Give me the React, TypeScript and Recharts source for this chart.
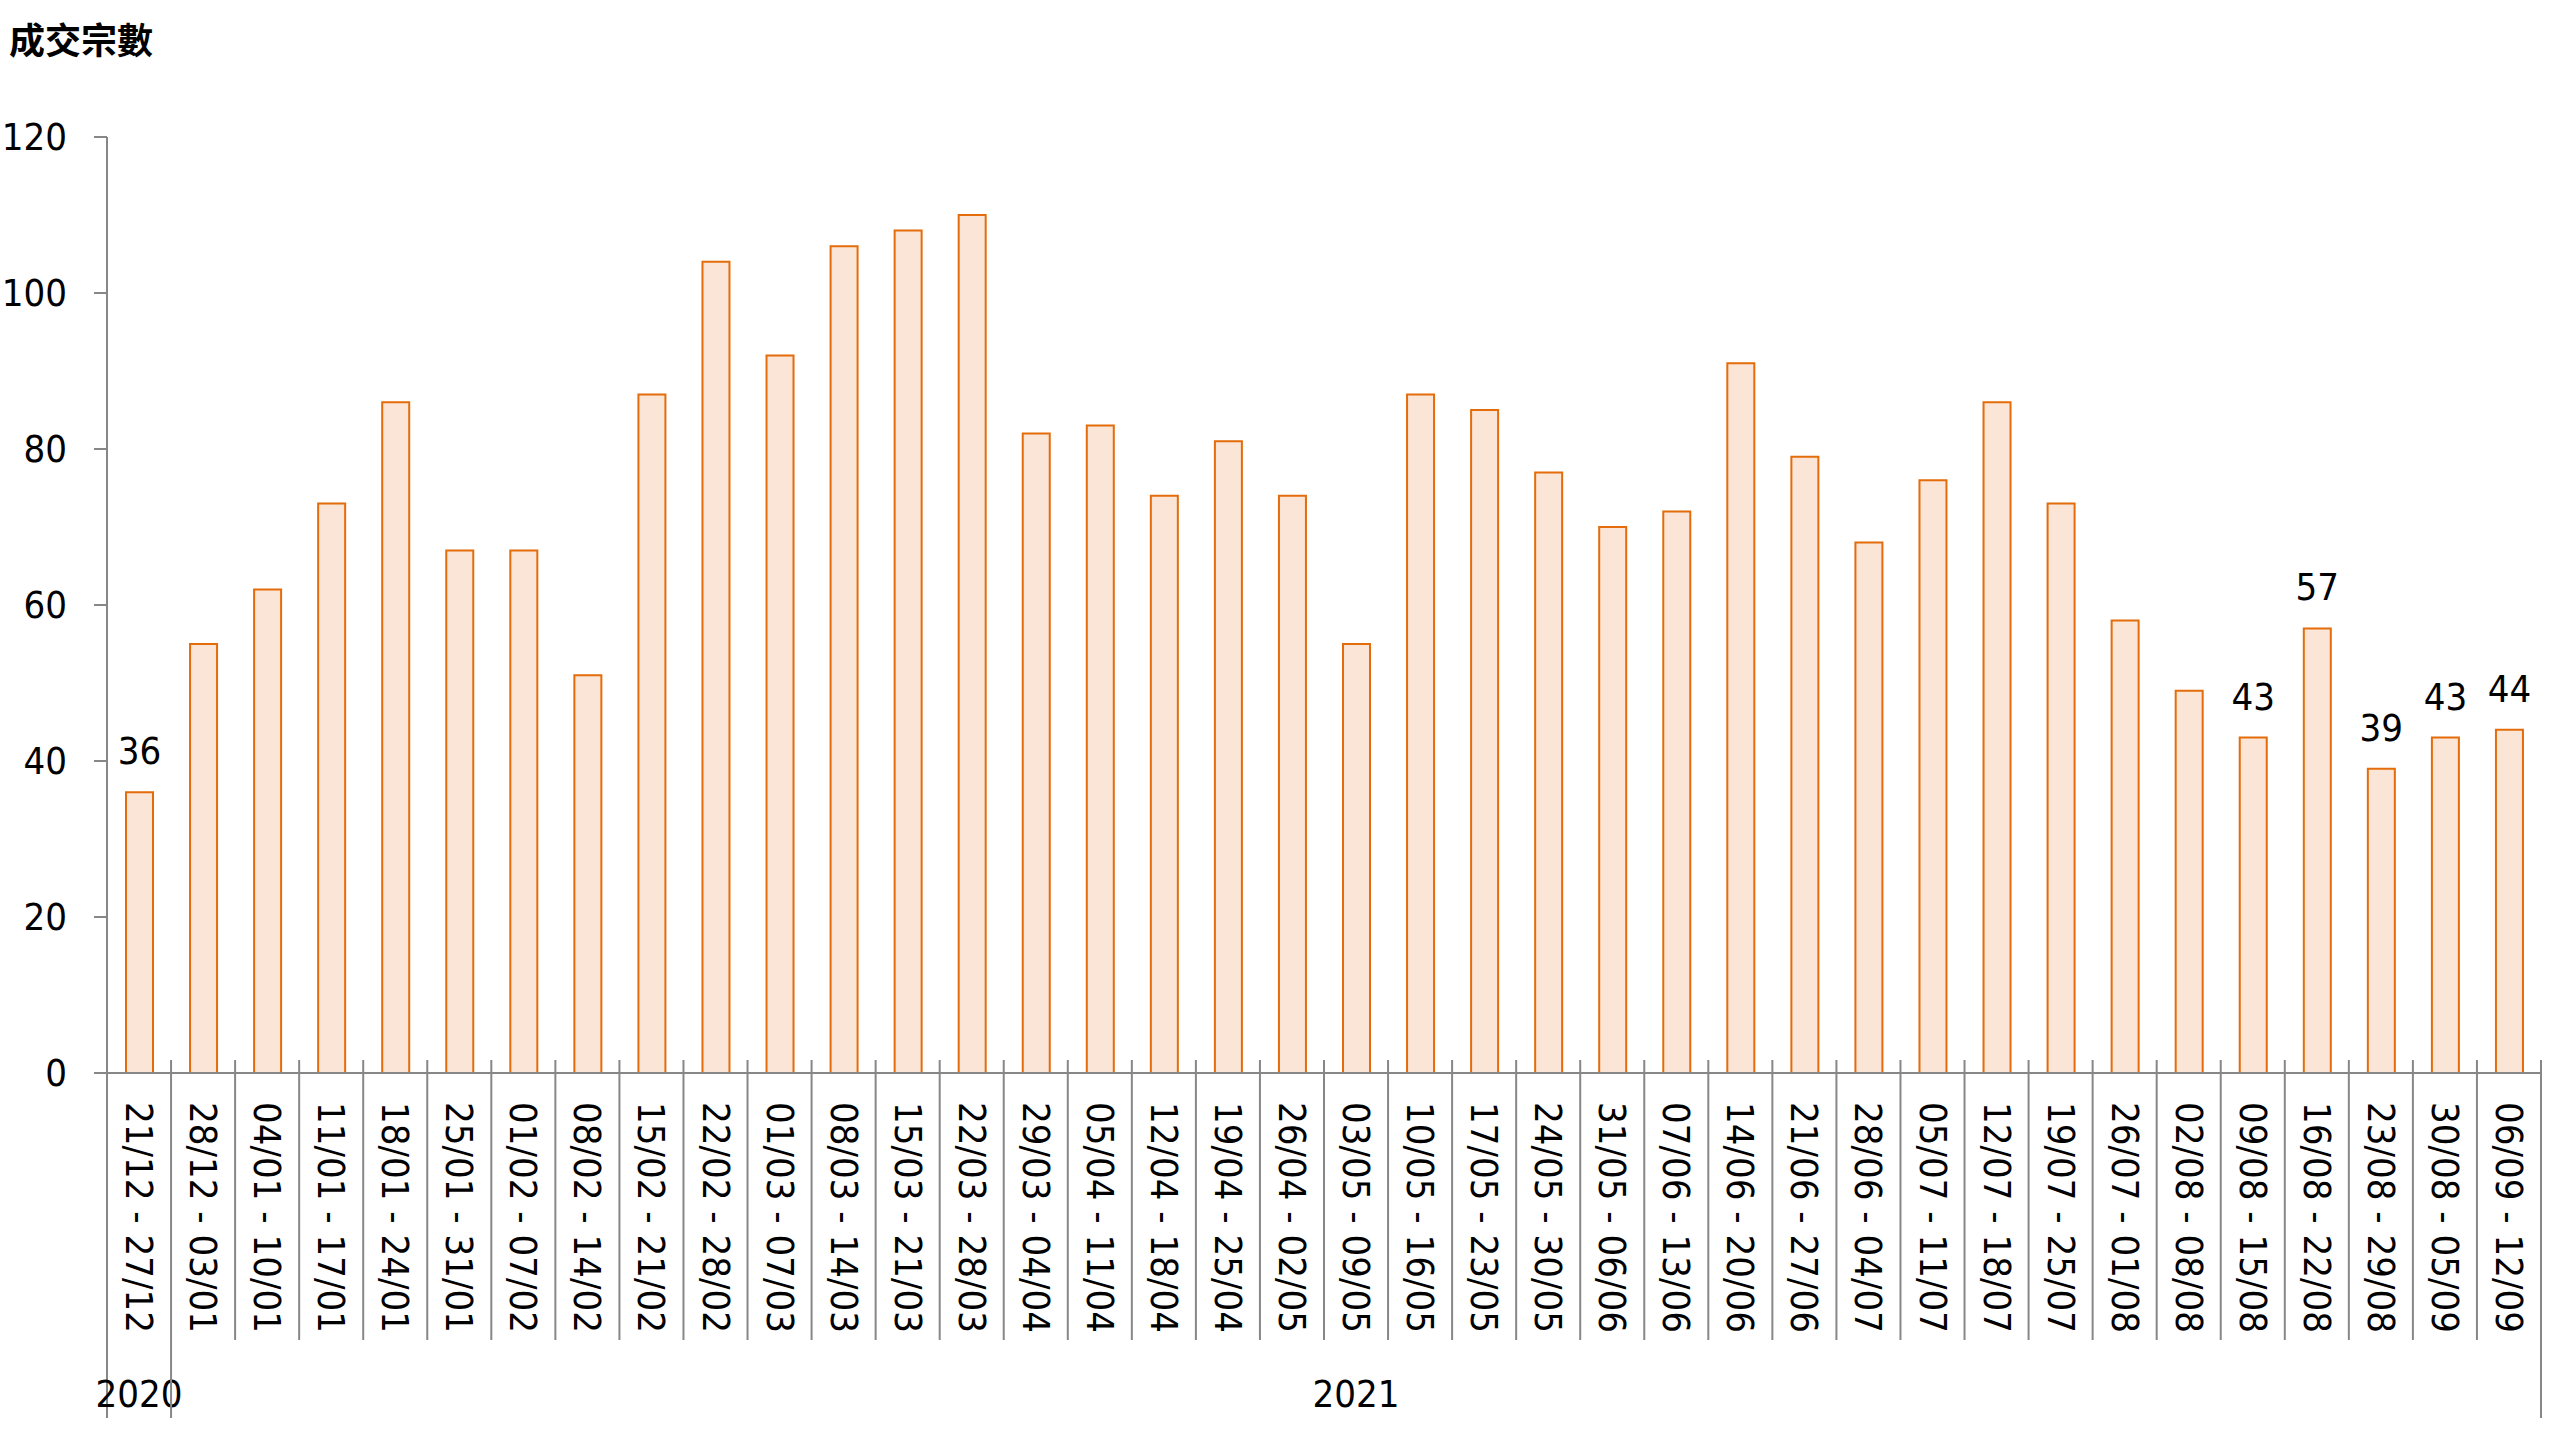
import { BarChart, Bar, XAxis, YAxis, LabelList } from "recharts";

const weeks = [
  "21/12 - 27/12", "28/12 - 03/01", "04/01 - 10/01", "11/01 - 17/01", "18/01 - 24/01",
  "25/01 - 31/01", "01/02 - 07/02", "08/02 - 14/02", "15/02 - 21/02", "22/02 - 28/02",
  "01/03 - 07/03", "08/03 - 14/03", "15/03 - 21/03", "22/03 - 28/03", "29/03 - 04/04",
  "05/04 - 11/04", "12/04 - 18/04", "19/04 - 25/04", "26/04 - 02/05", "03/05 - 09/05",
  "10/05 - 16/05", "17/05 - 23/05", "24/05 - 30/05", "31/05 - 06/06", "07/06 - 13/06",
  "14/06 - 20/06", "21/06 - 27/06", "28/06 - 04/07", "05/07 - 11/07", "12/07 - 18/07",
  "19/07 - 25/07", "26/07 - 01/08", "02/08 - 08/08", "09/08 - 15/08", "16/08 - 22/08",
  "23/08 - 29/08", "30/08 - 05/09", "06/09 - 12/09",
];

const deals = [
  36, 55, 62, 73, 86, 67, 67, 51, 87, 104,
  92, 106, 108, 110, 82, 83, 74, 81, 74, 55,
  87, 85, 77, 70, 72, 91, 79, 68, 76, 86,
  73, 58, 49, 43, 57, 39, 43, 44,
];

// weeks whose value is printed above the bar
const labelledWeeks = [
  "21/12 - 27/12", "09/08 - 15/08", "16/08 - 22/08",
  "23/08 - 29/08", "30/08 - 05/09", "06/09 - 12/09",
];

const years = ["2020", "2021"];
const weeksPerYear = [1, 37];

const yTicks = [0, 20, 40, 60, 80, 100, 120];

const W = 2560;
const H = 1440;
const MARGIN = { top: 137, right: 19, left: 0, bottom: 0 };
const Y_AXIS_W = 107;
const X_AXIS_H = 367;
const BAND = (W - MARGIN.left - MARGIN.right - Y_AXIS_W) / weeks.length;

const AXIS = "#878787";
const FONT = "'DejaVu Sans Condensed', 'DejaVu Sans', sans-serif";
const FONT_SIZE = 38;

const data = weeks.map((week, i) => ({
  week,
  deals: deals[i],
  label: labelledWeeks.includes(week) ? deals[i] : null,
}));

// first week index of each year group
const yearStarts = weeksPerYear.map((_, i) =>
  weeksPerYear.slice(0, i).reduce((a, b) => a + b, 0)
);

function WeekTick(props: any) {
  const { x, y, payload, index } = props;
  const left = x - BAND / 2;
  const right = x + BAND / 2;
  const groupIdx = yearStarts.indexOf(index);
  const isLast = index === weeks.length - 1;
  return (
    <g>
      <line
        x1={left}
        x2={left}
        y1={y - 13}
        y2={groupIdx >= 0 ? y + 345 : y + 267}
        stroke={AXIS}
        strokeWidth={2}
      />
      {isLast && (
        <line x1={right} x2={right} y1={y - 13} y2={y + 345} stroke={AXIS} strokeWidth={2} />
      )}
      <text
        transform={`translate(${x}, ${y + 29}) rotate(90)`}
        textAnchor="start"
        dominantBaseline="central"
        fontFamily={FONT}
        fontSize={FONT_SIZE}
        fill="#000"
      >
        {payload.value}
      </text>
      {groupIdx >= 0 && (
        <text
          x={x + ((weeksPerYear[groupIdx] - 1) / 2) * BAND}
          y={y + 334}
          textAnchor="middle"
          fontFamily={FONT}
          fontSize={FONT_SIZE}
          fill="#000"
        >
          {years[groupIdx]}
        </text>
      )}
    </g>
  );
}

export default function App() {
  return (
    <div style={{ position: "absolute", left: 0, top: 0, width: W, height: H, background: "#fff" }}>
      <div
        style={{
          position: "absolute",
          left: 9,
          top: 20,
          fontFamily: "'Noto Sans CJK TC', sans-serif",
          fontSize: 36,
          fontWeight: 700,
          lineHeight: "36px",
          color: "#000",
        }}
      >
        成交宗數
      </div>
      <BarChart width={W} height={H} data={data} margin={MARGIN}>
        <XAxis
          dataKey="week"
          height={X_AXIS_H}
          interval={0}
          tickLine={false}
          tickSize={0}
          tickMargin={0}
          axisLine={{ stroke: AXIS, strokeWidth: 2 }}
          tick={(p: any) => <WeekTick {...p} />}
        />
        <YAxis
          width={Y_AXIS_W}
          domain={[0, 120]}
          ticks={yTicks}
          tickSize={13}
          tickMargin={27}
          axisLine={{ stroke: AXIS, strokeWidth: 2 }}
          tickLine={{ stroke: AXIS, strokeWidth: 2 }}
          tick={{ fill: "#000", fontSize: FONT_SIZE, fontFamily: FONT }}
        />
        <Bar
          dataKey="deals"
          barSize={27}
          fill="#FBE5D6"
          stroke="#E46C0A"
          strokeWidth={2}
          isAnimationActive={false}
        >
          <LabelList
            dataKey="label"
            position="top"
            offset={28}
            fill="#000"
            fontSize={FONT_SIZE}
            fontFamily={FONT}
          />
        </Bar>
      </BarChart>
    </div>
  );
}
